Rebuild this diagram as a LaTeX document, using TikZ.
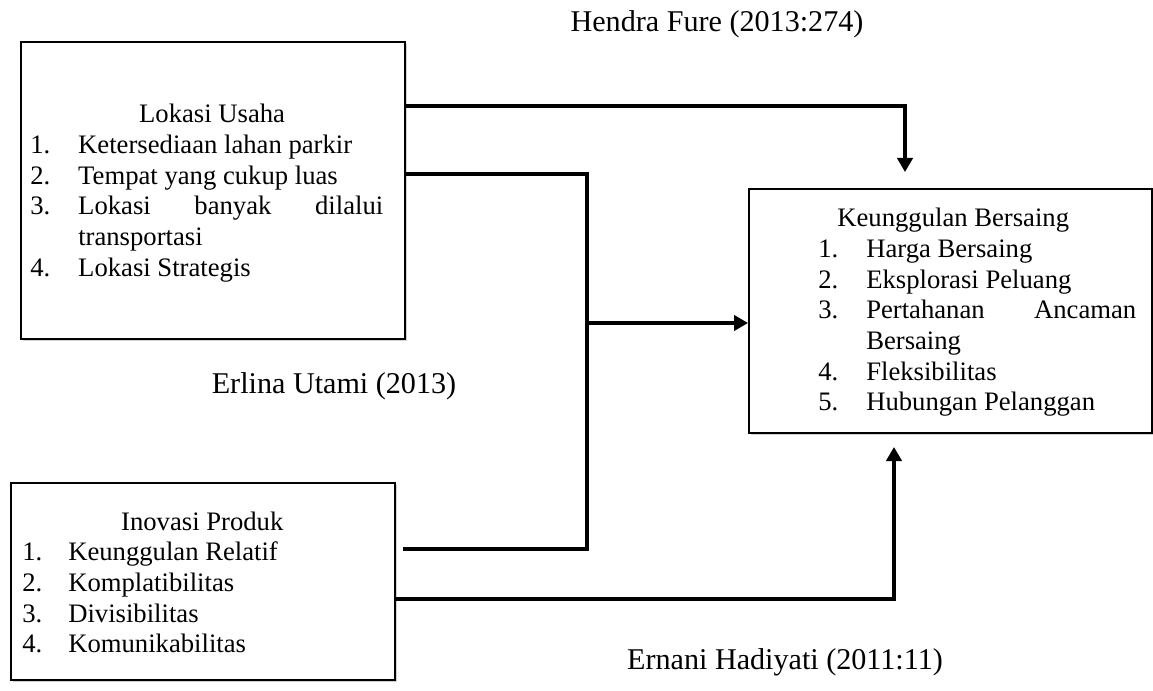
\documentclass[tikz,border=0pt]{standalone}
\usepackage{fontspec}
\setmainfont{Liberation Serif}
\usetikzlibrary{arrows.meta,shadows}
\newcommand{\litem}[3][36pt]{\par\hangindent=#1\hangafter=1 \makebox[#1][l]{#2}#3}
\newcommand{\txtset}{\hyphenpenalty=10000 \exhyphenpenalty=10000 \tolerance=10000 \relax}
\tikzset{
  box/.style={draw=black, line width=1.2pt, fill=white, anchor=north west, inner sep=0pt,
    drop shadow={shadow xshift=1.3pt, shadow yshift=-1.3pt, opacity=0.3, fill=black!60}},
  txt/.style={anchor=base west, inner sep=0pt, align=justify,
    font=\fontsize{20}{23}\selectfont},
  lbl/.style={anchor=base, inner sep=0pt, font=\fontsize{22.6}{27}\selectfont},
  conn/.style={line width=2.4pt, draw=black},
  arr/.style={conn, -{Triangle[length=10.5pt,width=11.5pt]}}
}
\begin{document}
\begin{tikzpicture}[x=0.75pt,y=-0.75pt]
\useasboundingbox (0,0) rectangle (1153,691);

% boxes
\node[box, minimum width=288pt, minimum height=222.75pt] (lok) at (20,41) {};
\node[box, minimum width=302.25pt, minimum height=183pt] (kb) at (748,188) {};
\node[box, minimum width=288pt, minimum height=147.75pt] (ino) at (10,482) {};

% box texts
\node[txt, text width=264.75pt] (lokT) at (30,123) {\txtset
\makebox[\linewidth]{\hspace*{8pt}Lokasi Usaha}%
\litem{1.}{Ketersediaan lahan parkir}%
\litem{2.}{Tempat yang cukup luas}%
\litem{3.}{Lokasi banyak dilalui \mbox{transportasi}}%
\litem{4.}{Lokasi Strategis}};

\node[txt, text width=238.5pt] (kbT) at (818,227) {\txtset
\makebox[\linewidth]{Keunggulan Bersaing\hspace*{36pt}}%
\litem{1.}{Harga Bersaing}%
\litem{2.}{Eksplorasi Peluang}%
\litem{3.}{Pertahanan Ancaman Bersaing}%
\litem{4.}{Fleksibilitas}%
\litem{5.}{Hubungan Pelanggan}};

\node[txt, text width=270pt] (inoT) at (22,530) {\txtset
\makebox[\linewidth]{Inovasi Produk}%
\litem[34.5pt]{1.}{Keunggulan Relatif}%
\litem[34.5pt]{2.}{Komplatibilitas}%
\litem[34.5pt]{3.}{Divisibilitas}%
\litem[34.5pt]{4.}{Komunikabilitas}};

% labels
\node[lbl] (hf) at (717,32) {Hendra Fure (2013:274)};
\node[lbl] (eu) at (334,394) {Erlina Utami (2013)};
\node[lbl] (eh) at (785,669) {Ernani Hadiyati (2011:11)};

% connectors
\coordinate (a1) at (905,106);
\coordinate (a1t) at (905,172);
\draw[arr] (lok.east |- a1) -- (a1) -- (a1t);

\coordinate (b1) at (587,174);
\coordinate (b2) at (587,549);
\coordinate (b3) at (403,549);
\draw[conn] (lok.east |- b1) -- (b1) -- (b2) -- (b3);

\coordinate (b4) at (587,323);
\draw[arr] (b4) -- (kb.west |- b4);

\coordinate (d1) at (894,599);
\coordinate (d1t) at (894,447);
\draw[arr] (ino.east |- d1) -- (d1) -- (d1t);
\end{tikzpicture}
\end{document}
